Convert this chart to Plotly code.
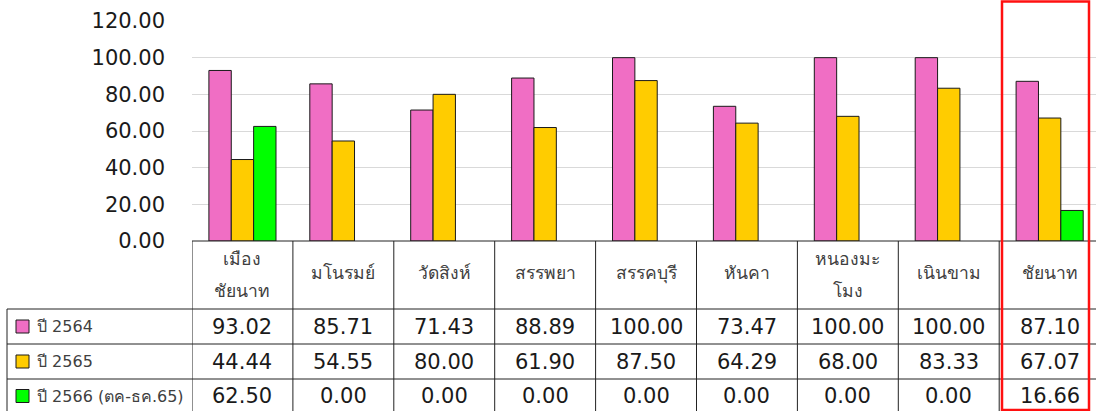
import plotly.graph_objects as go

# District names and yearly values (%)
districts = ["เมือง<br>ชัยนาท", "มโนรมย์", "วัดสิงห์", "สรรพยา", "สรรคบุรี",
             "หันคา", "หนองมะ<br>โมง", "เนินขาม", "ชัยนาท"]
series_names = ["ปี 2564", "ปี 2565", "ปี 2566 (ตค-ธค.65)"]
y2564 = [93.02, 85.71, 71.43, 88.89, 100.00, 73.47, 100.00, 100.00, 87.10]
y2565 = [44.44, 54.55, 80.00, 61.90, 87.50, 64.29, 68.00, 83.33, 67.07]
y2566 = [62.50, 0.00, 0.00, 0.00, 0.00, 0.00, 0.00, 0.00, 16.66]
colors = ["#F06EC4", "#FFCC00", "#00FF00"]
y_ticks = [0, 20, 40, 60, 80, 100, 120]

W, H = 1096, 411
FONT = "DejaVu Sans, Noto Sans, sans-serif"


def px(x):
    return x / W


def py(y):
    return 1 - y / H


n = len(districts)
xs = list(range(n))
all_series = [y2564, y2565, y2566]

fig = go.Figure()
for name, vals, col in zip(series_names, all_series, colors):
    fig.add_trace(go.Bar(
        x=xs, y=vals, name=name,
        marker=dict(color=col,
                    line=dict(color="#1a1a1a", width=[1 if v > 0 else 0 for v in vals])),
        showlegend=False,
    ))

# Plot area: left edge at 192px, zero line at 241px, 120 at 21px
col_w = 100.9
x_left, x_right = 192, W
x_range = [-0.5, -0.5 + (x_right - x_left) / col_w]

fig.update_layout(
    width=W, height=H,
    margin=dict(l=0, r=0, t=0, b=0, autoexpand=False),
    paper_bgcolor="white", plot_bgcolor="white",
    barmode="group", bargap=0.335, bargroupgap=0,
    font=dict(family=FONT, color="#1a1a1a"),
    xaxis=dict(domain=[px(x_left), 1], range=x_range, showticklabels=False,
               showgrid=False, zeroline=False, ticks="", automargin=False),
    yaxis=dict(domain=[py(241), py(21)], range=[0, 120], tickvals=y_ticks,
               tickformat=".2f", showgrid=True, gridcolor="#d9d9d9", gridwidth=1,
               zeroline=False, ticks="", ticklabelstandoff=26, automargin=False,
               tickfont=dict(size=21, color="#1a1a1a", family=FONT)),
)

shapes = []
line = dict(color="#222222", width=1)

# Data table grid
row_y = [241, 309, 344, 379, 413]
shapes.append(dict(type="line", xref="paper", yref="paper",
                   x0=px(x_left), x1=1, y0=py(241), y1=py(241), line=line))
for yy in row_y[1:]:
    shapes.append(dict(type="line", xref="paper", yref="paper",
                       x0=px(7), x1=1, y0=py(yy), y1=py(yy), line=line))
shapes.append(dict(type="line", xref="paper", yref="paper",
                   x0=px(7), x1=px(7), y0=py(309), y1=py(413), line=line))
for i in range(n + 1):
    shapes.append(dict(type="line", xref="x", yref="paper",
                       x0=i - 0.5, x1=i - 0.5, y0=py(241), y1=py(413), line=line))

# Legend keys inside table
row_centers = [326.5, 361.5, 396]
for col, yc in zip(colors, row_centers):
    shapes.append(dict(type="rect", xref="paper", yref="paper",
                       x0=px(16), x1=px(29), y0=py(yc + 6.5), y1=py(yc - 6.5),
                       fillcolor=col, line=dict(color="#1a1a1a", width=1)))

# Highlight frame around the province total
shapes.append(dict(type="rect", xref="paper", yref="paper",
                   x0=px(1002), x1=px(1089), y0=py(410), y1=py(1.5),
                   line=dict(color="#FF1010", width=2.5), fillcolor="rgba(0,0,0,0)"))

annotations = []
head_font = dict(size=17.5, color="#404040", family=FONT)
for i, d in enumerate(districts):
    parts = d.split("<br>")
    if len(parts) == 1:
        ys = [273]
    else:
        ys = [259, 291]
    for part, yy in zip(parts, ys):
        annotations.append(dict(x=i, y=py(yy), xref="x", yref="paper", text=part,
                                showarrow=False, font=head_font,
                                xanchor="center", yanchor="middle"))
for name, yc in zip(series_names, row_centers):
    annotations.append(dict(x=px(35), y=py(yc), xref="paper", yref="paper", text=name,
                            showarrow=False, font=dict(size=16, color="#404040", family=FONT),
                            xanchor="left", yanchor="middle"))
for vals, yc in zip(all_series, row_centers):
    for i, v in enumerate(vals):
        annotations.append(dict(x=i, y=py(yc), xref="x", yref="paper", text=f"{v:.2f}",
                                showarrow=False, font=dict(size=21, color="#1a1a1a", family=FONT),
                                xanchor="center", yanchor="middle"))

fig.update_layout(shapes=shapes, annotations=annotations)
fig.write_html("out.html")
